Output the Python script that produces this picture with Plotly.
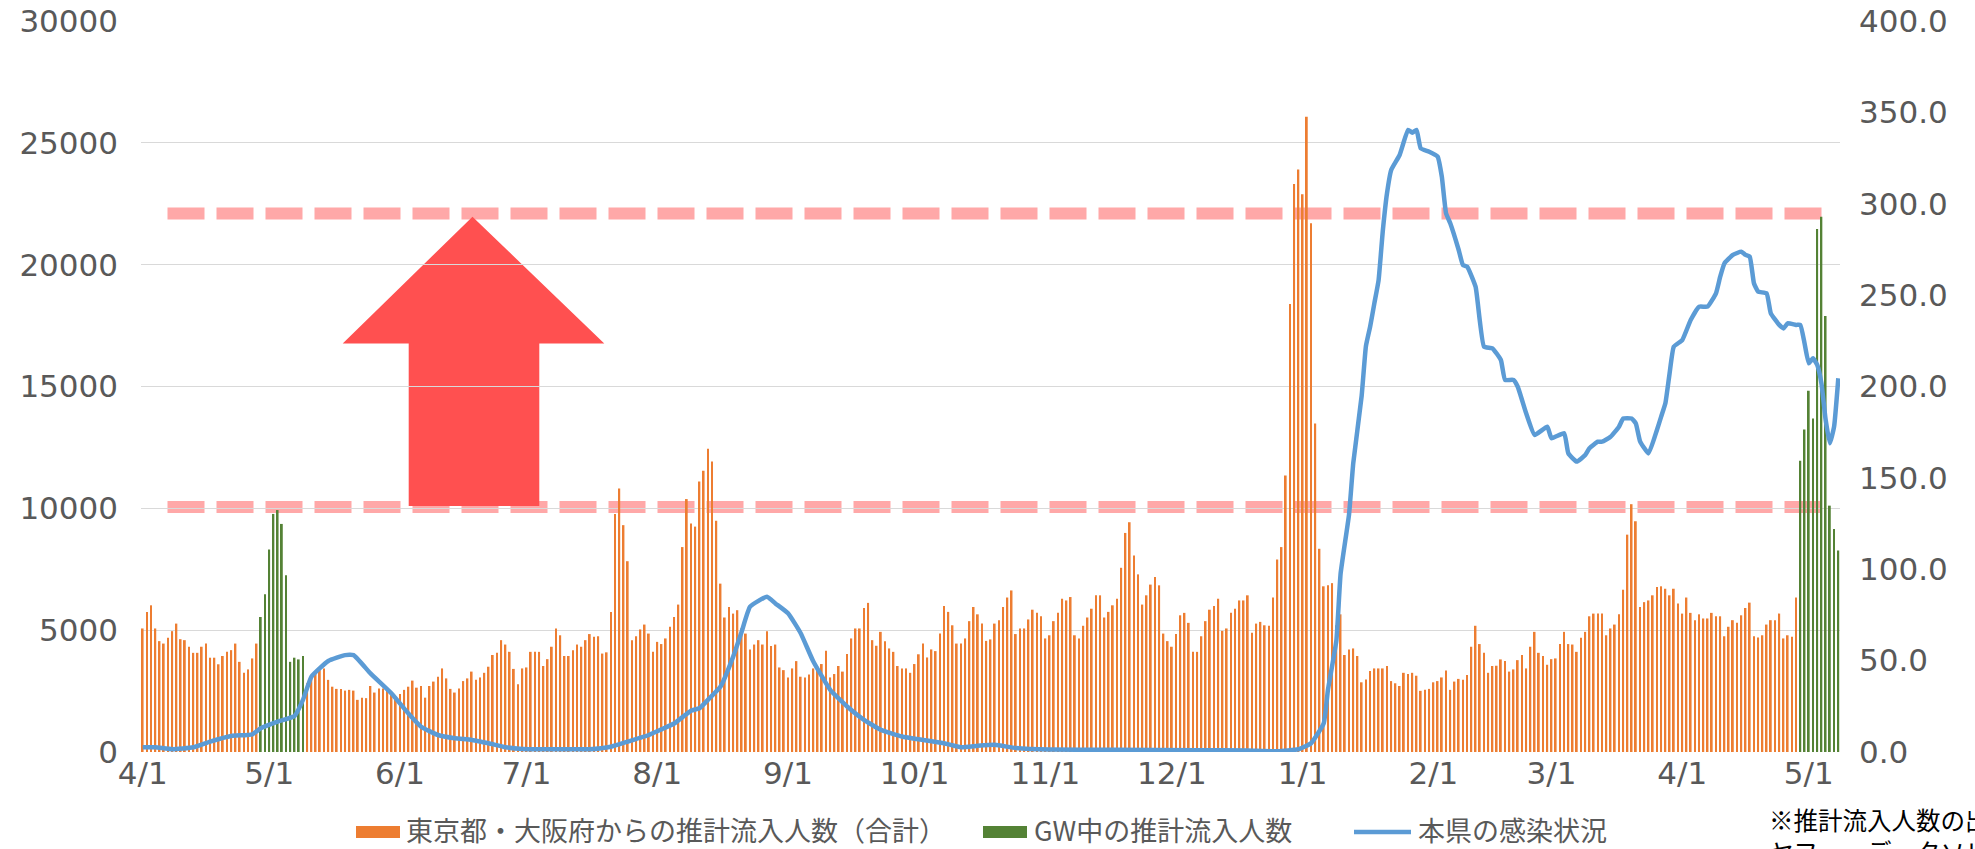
import datetime as dt
import plotly.graph_objects as go

# ---------------- data ----------------
START = dt.date(2021, 4, 1)
N_DAYS = 403  # 2021-04-01 .. 2022-05-08

# daily estimated inflow from Tokyo + Osaka (orange); None on GW days
orange_vals = [
    5070, 5750, 6020, 5070, 4550, 4450, 4690, 4960, 5270, 4630,
    4590, 4320, 4070, 4070, 4320, 4450, 3870, 3870, 3600, 3940,
    4110, 4180, 4450, 3700, 3250, 3390, 3840, 4450, None, None,
    None, None, None, None, None, None, None, None, None, 2820,
    3020, 3300, 3360, 3430, 2960, 2680, 2590, 2590, 2520, 2550,
    2520, 2140, 2230, 2210, 2710, 2440, 2610, 2610, 2520, 2410,
    2270, 2380, 2550, 2680, 2930, 2640, 2710, 2230, 2710, 2890,
    3090, 3430, 3020, 2590, 2440, 2610, 2910, 3020, 3300, 2960,
    3060, 3250, 3500, 3980, 4070, 4590, 4410, 4110, 3410, 2780,
    3430, 3470, 4110, 4110, 4110, 3530, 3810, 4320, 5070, 4790,
    3940, 3940, 4180, 4410, 4320, 4590, 4840, 4730, 4750, 4040,
    4090, 5750, 9770, 10810, 9310, 7830, 4590, 4750, 5030, 5230,
    4860, 4110, 4520, 4430, 4660, 5140, 5540, 6050, 8410, 10380,
    9380, 9250, 11100, 11540, 12450, 11920, 9490, 6910, 5520, 5950,
    5680, 5820, 5070, 4860, 4210, 4410, 4590, 4410, 4960, 4350,
    4410, 3470, 3360, 3060, 3430, 3730, 3090, 3060, 3180, 3430,
    3500, 3610, 4160, 3060, 3200, 3530, 3300, 4020, 4660, 5070,
    5070, 5910, 6120, 4590, 4360, 4930, 4550, 4250, 4110, 3530,
    3430, 3430, 3250, 3610, 4010, 4450, 3880, 4210, 4140, 4860,
    5990, 5750, 5200, 4450, 4450, 4660, 5370, 5950, 5650, 5270,
    4560, 4620, 5270, 5410, 5950, 6340, 6630, 4840, 5070, 5070,
    5440, 5840, 5710, 5570, 4660, 4790, 5370, 5710, 6290, 6220,
    6360, 4790, 4660, 5180, 5520, 5880, 6430, 6430, 5520, 5750,
    6020, 6290, 7560, 8990, 9430, 8060, 7290, 6050, 6430, 6870,
    7180, 6840, 4860, 4550, 4320, 4840, 5610, 5710, 5300, 4110,
    4110, 4750, 5370, 5840, 5990, 6290, 4970, 5070, 5710, 5880,
    6220, 6220, 6430, 4890, 5270, 5340, 5200, 5180, 6340, 7900,
    8410, 11350, 18390, 23310, 23910, 22890, 26070, 21700, 13480, 8340,
    6800, 6840, 6930, 5200, 5650, 3980, 4210, 4250, 3940, 2860,
    2980, 3320, 3430, 3430, 3430, 3530, 2910, 2820, 2710, 3250,
    3200, 3250, 3130, 2510, 2550, 2590, 2860, 2910, 3060, 3340,
    2550, 2890, 3000, 2960, 3160, 4320, 5180, 4430, 4070, 3250,
    3530, 3540, 3800, 3730, 3300, 3390, 3770, 3980, 3430, 4320,
    4930, 4070, 3940, 3580, 3810, 3840, 4430, 4930, 4430, 4410,
    4110, 4690, 4930, 5570, 5680, 5680, 5680, 4790, 5070, 5230,
    5650, 6660, 8920, 10170, 9470, 5950, 6150, 6220, 6430, 6770,
    6800, 6700, 6430, 6700, 6090, 5680, 6340, 5710, 5410, 5650,
    5480, 5480, 5710, 5570, 5570, 4750, 5140, 5410, 5300, 5610,
    5910, 6130, 4750, 4700, 4790, 5230, 5410, 5410, 5680, 4660,
    4790, 4730, 6340, None, None, None, None, None, None, None,
    None, None, None,
]

# Golden Week periods (green)
gw2021_start = 28   # 2021-04-29
gw2021_vals = [5540, 6470, 8310, 9770, 9930, 9360, 7250, 3700, 3870, 3800, 3940]
gw2022_start = 393  # 2022-04-29
gw2022_vals = [11950, 13240, 14830, 13690, 21460, 21970, 17890, 10110, 9150, 8270]

# infection status in the prefecture (right axis), read at these day offsets
line_days = [
    0, 3, 7, 12, 16, 21, 26, 28, 32, 36, 38, 40, 44, 48, 50, 54, 59, 63, 66, 70,
    74, 78, 82, 86, 90, 98, 106, 111, 115, 120, 123, 126, 130, 132, 134, 137, 140, 142, 144, 148,
    150, 153, 156, 159, 163, 167, 171, 175, 180, 185, 190, 194, 198, 202, 207, 215, 230, 250, 262, 269,
    274, 277, 280, 281, 283, 284, 286, 287, 289, 290, 291, 292, 293, 294, 295, 296, 298, 300, 301, 302,
    303, 305, 307, 308, 309, 310, 312, 313, 314, 316, 318, 320, 322, 323, 325, 326, 328, 330, 333, 334,
    337, 338, 340, 342, 343, 345, 346, 348, 350, 351, 353, 354, 355, 357, 359, 360, 361, 362, 363, 365,
    367, 369, 371, 373, 374, 375, 377, 379, 380, 381, 382, 383, 385, 386, 388, 389, 390, 392, 393, 394,
    395, 396, 397, 398, 399, 400, 401, 402,
]
line_vals = [
    2.6, 2.6, 1.5, 2.6, 5.7, 8.8, 9.7, 13.0, 16.6, 19.7, 28.5, 41.2, 49.8, 53.0, 53.0, 43.0, 32.0, 21.0, 13.8, 9.3,
    7.5, 6.6, 4.8, 2.6, 1.7, 1.5, 1.5, 2.9, 5.7, 9.3, 12.4, 15.6, 22.6, 23.9, 28.5, 35.8, 52.2, 65.8, 79.5, 85.0,
    81.3, 75.9, 65.0, 49.5, 34.0, 24.9, 17.6, 12.1, 8.5, 6.6, 4.8, 2.6, 3.4, 3.9, 2.2, 1.3, 1.2, 1.0, 0.8, 0.4,
    1.5, 4.8, 15.7, 34.0, 61.0, 97.5, 130.0, 158.0, 195.0, 222.0, 232.7, 245.5, 258.0, 285.0, 305.7, 318.5, 326.7, 340.4, 338.9, 340.4,
    330.3, 328.5, 325.8, 314.8, 294.8, 289.3, 274.7, 266.5, 265.6, 254.6, 221.8, 220.9, 214.5, 203.6, 203.6, 199.9, 185.3, 173.5, 178.0, 171.7,
    174.4, 163.4, 158.9, 162.5, 166.2, 169.8, 169.8, 172.5, 178.0, 182.5, 182.5, 179.8, 170.0, 163.4, 176.2, 183.5, 190.8, 207.2, 221.8, 225.4,
    236.4, 243.7, 243.7, 251.0, 260.1, 267.4, 272.0, 273.8, 272.0, 271.0, 256.5, 251.9, 251.0, 240.0, 233.7, 231.8, 234.6, 233.7, 233.7, 223.6,
    212.7, 215.4, 211.8, 201.7, 181.7, 168.9, 178.0, 204.5,
]

# horizontal reference levels (left axis units)
upper_level = 22100
lower_level = 10050

series_names = ["東京都・大阪府からの推計流入人数（合計）", "GW中の推計流入人数", "本県の感染状況"]
note_text = "※推計流入人数の出典：<br>ヤフー・データソリューション"

# ---------------- build ----------------
dates = [START + dt.timedelta(days=i) for i in range(N_DAYS)]
green_vals = [None] * N_DAYS
for k, v in enumerate(gw2021_vals):
    green_vals[gw2021_start + k] = v
for k, v in enumerate(gw2022_vals):
    green_vals[gw2022_start + k] = v
line_dates = [START + dt.timedelta(days=d) for d in line_days]

ORANGE = "#ED7D31"
GREEN = "#548235"
BLUE = "#5B9BD5"
GRID = "#D9D9D9"
TICK = "#595959"
JP = "Noto Sans CJK JP"

W, H = 1975, 849
PL, PR, PT, PB = 141, 1840, 21, 752   # plot area in px


def px(x):
    return (x - PL) / (PR - PL)


def py(y):
    return (PB - y) / (PB - PT)


DAY_MS = 86400000
bar_w = 0.42 * DAY_MS

fig = go.Figure()
fig.add_trace(go.Bar(x=dates, y=orange_vals, width=bar_w, marker_color=ORANGE,
                     marker_line_width=0, name=series_names[0], showlegend=False))
fig.add_trace(go.Bar(x=dates, y=green_vals, width=bar_w, marker_color=GREEN,
                     marker_line_width=0, name=series_names[1], showlegend=False))
fig.add_trace(go.Scatter(x=line_dates, y=line_vals, yaxis="y2", mode="lines",
                         line=dict(color=BLUE, width=4.5, shape="spline", smoothing=0.4),
                         name=series_names[2], showlegend=False))

x_start = dt.datetime(2021, 4, 1) - dt.timedelta(hours=0.4 * 24)
x_end = dt.datetime(2021, 4, 1) + dt.timedelta(hours=(N_DAYS - 1 + 0.4) * 24)

shapes = []
# dashed reference bands
for lvl in (upper_level, lower_level):
    shapes.append(dict(type="line", xref="paper", yref="y", x0=px(167.5), x1=px(1826),
                       y0=lvl, y1=lvl, layer="between",
                       line=dict(color="rgba(255,115,115,0.62)", width=12, dash="37px,12px")))
# big red arrow
tip = (px(472.5), py(216.7))
by = py(343.5)
sb = py(506)
bl, br = px(342.7), px(604.3)
sl, sr = px(408.7), px(539.3)
path = (f"M {tip[0]},{tip[1]} L {br},{by} L {sr},{by} L {sr},{sb} "
        f"L {sl},{sb} L {sl},{by} L {bl},{by} Z")
shapes.append(dict(type="path", xref="paper", yref="paper", path=path,
                   fillcolor="#FF5050", line=dict(width=0), layer="between"))

# custom legend
leg_y = py(832)
shapes.append(dict(type="rect", xref="paper", yref="paper", x0=px(356), x1=px(400),
                   y0=py(826), y1=py(838), fillcolor=ORANGE, line=dict(width=0)))
shapes.append(dict(type="rect", xref="paper", yref="paper", x0=px(983), x1=px(1027),
                   y0=py(826), y1=py(838), fillcolor=GREEN, line=dict(width=0)))
shapes.append(dict(type="line", xref="paper", yref="paper", x0=px(1354), x1=px(1411),
                   y0=leg_y, y1=leg_y, line=dict(color=BLUE, width=4.5)))

annotations = []
for xpos, txt in ((405, series_names[0]), (1033, series_names[1]), (1417, series_names[2])):
    annotations.append(dict(xref="paper", yref="paper", x=px(xpos), y=py(829.5), text=txt,
                            showarrow=False, xanchor="left", yanchor="middle",
                            borderpad=0, font=dict(family=JP, size=27, color=TICK)))
annotations.append(dict(xref="paper", yref="paper", x=px(1768), y=py(801), text=note_text,
                        showarrow=False, xanchor="left", yanchor="top", align="left",
                        borderpad=0, font=dict(family=JP, size=24.5, color="#000000")))

fig.update_layout(
    width=W, height=H,
    margin=dict(l=PL, r=W - PR, t=PT, b=H - PB, autoexpand=False),
    paper_bgcolor="white", plot_bgcolor="white",
    barmode="overlay",
    showlegend=False,
    shapes=shapes,
    annotations=annotations,
    font=dict(family="DejaVu Sans", color=TICK),
    xaxis=dict(type="date", range=[x_start, x_end], tick0="2021-04-01", dtick="M1",
               tickformat="%-m/%-d", showgrid=False, zeroline=False, showline=False,
               ticks="", ticklabelstandoff=0, automargin=False,
               tickfont=dict(family="DejaVu Sans", size=31, color=TICK)),
    yaxis=dict(range=[0, 30000], dtick=5000, tickformat="d", showgrid=True,
               gridcolor=GRID, gridwidth=1.3, automargin=False,
               zeroline=False, showline=False, ticks="", ticklabelstandoff=22,
               tickfont=dict(family="DejaVu Sans", size=31, color=TICK)),
    yaxis2=dict(range=[0, 400], dtick=50, tickformat=".1f", overlaying="y", side="right",
                showgrid=False, zeroline=False, showline=False, ticks="",
                ticklabelstandoff=18, automargin=False,
                tickfont=dict(family="DejaVu Sans", size=31, color=TICK)),
)

fig.write_html("out.html", config={"displayModeBar": False},
               post_script="document.body.style.margin='0';document.body.style.overflow='hidden';")
